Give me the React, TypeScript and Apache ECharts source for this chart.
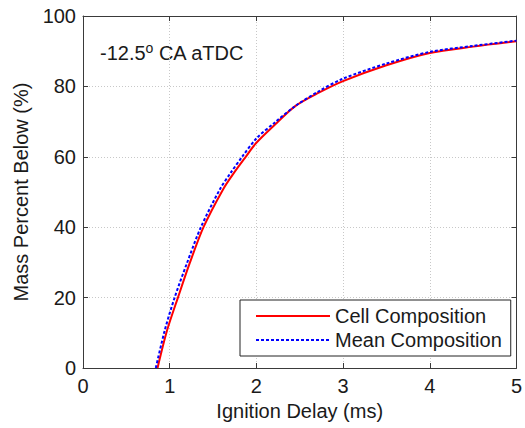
import React, { useEffect, useRef } from "react";
import * as echarts from "echarts";

const cellX = [0.86, 0.97, 1.095, 1.23, 1.39, 1.617, 1.743, 1.877, 2.0, 2.238, 2.448, 2.72, 3.0, 3.5, 4.0, 4.5, 5.0];
const cellY = [0, 10.7, 20, 29.7, 40, 50.8, 55.5, 60, 64, 69.7, 74.4, 78.2, 81.5, 86, 89.5, 91.3, 92.8];
const meanX = [0.84, 0.943, 1.057, 1.198, 1.36, 1.58, 1.705, 1.836, 2.0, 2.21, 2.448, 2.72, 3.0, 3.5, 4.0, 4.5, 5.0];
const meanY = [0, 10.7, 20, 29.7, 40, 50.8, 55.5, 60, 65.2, 69.7, 74.4, 78.6, 82.2, 86.5, 89.8, 91.5, 93];
const xTicks = [0, 1, 2, 3, 4, 5];
const yTicks = [0, 20, 40, 60, 80, 100];
const seriesNames = ["Cell Composition", "Mean Composition"];

const FONT = "Liberation Sans, Arial, sans-serif";
const FS = 20;
const AX = "#3a3a3a";

export default function App() {
  const ref = useRef<HTMLDivElement>(null);
  useEffect(() => {
    if (!ref.current) return;
    const chart = echarts.init(ref.current, null, { renderer: "svg" });
    const pairs = (xs: number[], ys: number[]) => xs.map((x, i) => [x, ys[i]]);
    const baseAxis = {
      axisLine: { show: true, onZero: false, lineStyle: { color: AX, width: 1 } },
      axisTick: { show: true, inside: true, length: 5, lineStyle: { color: AX } },
    };
    chart.setOption({
      animation: false,
      backgroundColor: "#ffffff",
      textStyle: { fontFamily: FONT },
      grid: { left: 83, right: 7, top: 16, bottom: 60, containLabel: false },
      xAxis: [
        {
          type: "value", min: xTicks[0], max: xTicks[xTicks.length - 1], interval: 1,
          ...baseAxis,
          axisLabel: { color: "#1a1a1a", fontSize: FS, fontFamily: FONT, margin: 8 },
          splitLine: { show: true, lineStyle: { color: "#c8c8c8", type: [1, 2], width: 1 } },
          name: "Ignition Delay (ms)", nameLocation: "middle", nameGap: 30,
          nameTextStyle: { color: "#1a1a1a", fontSize: FS, fontFamily: FONT },
        },
        {
          type: "value", position: "top", min: 0, max: 5, interval: 1,
          ...baseAxis, axisLabel: { show: false }, splitLine: { show: false },
        },
      ],
      yAxis: [
        {
          type: "value", min: yTicks[0], max: yTicks[yTicks.length - 1], interval: 20,
          ...baseAxis,
          axisLabel: { color: "#1a1a1a", fontSize: FS, fontFamily: FONT, margin: 7 },
          splitLine: { show: true, lineStyle: { color: "#c8c8c8", type: [1, 2], width: 1 } },
          name: "Mass Percent Below (%)", nameLocation: "middle", nameGap: 52,
          nameTextStyle: { color: "#1a1a1a", fontSize: FS, fontFamily: FONT },
        },
        {
          type: "value", position: "right", min: 0, max: 100, interval: 20,
          ...baseAxis, axisLabel: { show: false }, splitLine: { show: false },
        },
      ],
      legend: {
        orient: "vertical", left: 240, top: 300,
        padding: [6, 9, 6, 15], itemGap: 4, itemWidth: 74, itemHeight: 18,
        borderColor: "#222", borderWidth: 1, backgroundColor: "#fff",
        itemStyle: { color: "transparent", borderWidth: 0, opacity: 0 },
        textStyle: { color: "#1a1a1a", fontSize: FS, fontFamily: FONT },
        data: seriesNames,
      },
      graphic: [
        {
          type: "text", left: 100, top: 41,
          style: {
            text: "-12.5{sup|o} CA aTDC",
            fill: "#1a1a1a", fontSize: FS, fontFamily: FONT,
            rich: { sup: { fontSize: 14, verticalAlign: "top", padding: [0, 0, 9, 0], fontFamily: FONT, fill: "#1a1a1a" } },
          },
        },
      ],
      series: [
        {
          name: seriesNames[0], type: "line", data: pairs(cellX, cellY), smooth: 0.3,
          symbol: "none", lineStyle: { color: "#ff0000", width: 2 }, itemStyle: { color: "#ff0000" },
        },
        {
          name: seriesNames[1], type: "line", data: pairs(meanX, meanY), smooth: 0.3,
          symbol: "none", lineStyle: { color: "#0000ff", width: 2, type: [3, 2] }, itemStyle: { color: "#0000ff" },
        },
      ],
    });
    return () => chart.dispose();
  }, []);
  return <div ref={ref} style={{ position: "absolute", left: 0, top: 0, width: 525, height: 428 }} />;
}
